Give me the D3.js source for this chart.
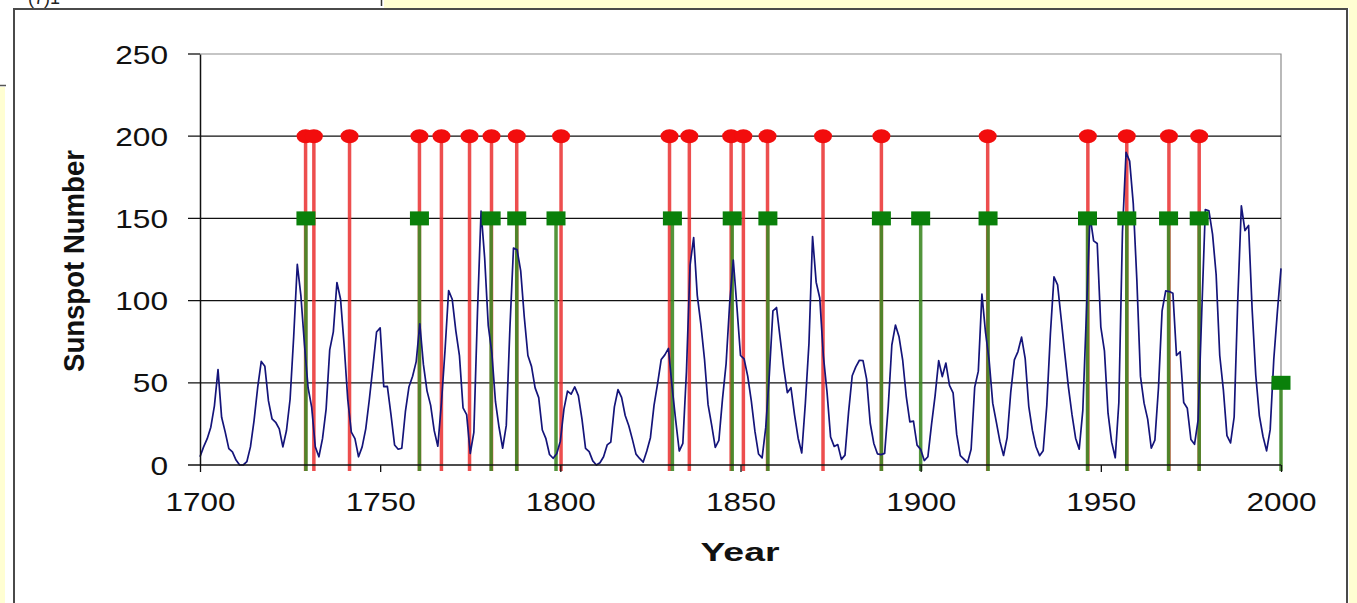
<!DOCTYPE html>
<html>
<head>
<meta charset="utf-8">
<script src="https://cdn.jsdelivr.net/npm/d3@7"></script>
<style>
  body { margin: 0; background: #fff; }
  svg { display: block; font-family: "Liberation Sans", Arial, sans-serif; }
</style>
</head>
<body>
<svg id="chart" width="1357" height="603"></svg>
<script>
// Yearly mean sunspot number, 1700-2000
const years = d3.range(1700, 2001);
const sunspots = [
  5, 11, 16, 23, 36, 58, 29, 20, 10, 8,
  3, 0, 0, 2, 11, 27, 47, 63, 60, 39,
  28, 26, 22, 11, 21, 40, 78, 122, 103, 73,
  47, 35, 11, 5, 16, 34, 70, 81, 111, 101,
  73, 40, 20, 16, 5, 11, 22, 40, 60, 80.9,
  83.4, 47.7, 47.8, 30.7, 12.2, 9.6, 10.2, 32.4, 47.6, 54,
  62.9, 85.9, 61.2, 45.1, 36.4, 20.9, 11.4, 37.8, 69.8, 106.1,
  100.8, 81.6, 66.5, 34.8, 30.6, 7, 19.8, 92.5, 154.4, 125.9,
  84.8, 68.1, 38.5, 22.8, 10.2, 24.1, 82.9, 132, 130.9, 118.1,
  89.9, 66.6, 60, 46.9, 41, 21.3, 16, 6.4, 4.1, 6.8,
  14.5, 34, 45, 43.1, 47.5, 42.2, 28.1, 10.1, 8.1, 2.5,
  0, 1.4, 5, 12.2, 13.9, 35.4, 45.8, 41.1, 30.1, 23.9,
  15.6, 6.6, 4, 1.8, 8.5, 16.6, 36.3, 49.6, 64.2, 67,
  70.9, 47.8, 27.5, 8.5, 13.2, 56.9, 121.5, 138.3, 103.2, 85.7,
  64.6, 36.7, 24.2, 10.7, 15, 40.1, 61.5, 98.5, 124.7, 96.3,
  66.6, 64.5, 54.1, 39, 20.6, 6.7, 4.3, 22.7, 54.8, 93.8,
  95.8, 77.2, 59.1, 44, 47, 30.5, 16.3, 7.3, 37.6, 74,
  139, 111.2, 101.6, 66.2, 44.7, 17, 11.3, 12.4, 3.4, 6,
  32.3, 54.3, 59.7, 63.7, 63.5, 52.2, 25.4, 13.1, 6.8, 6.3,
  7.1, 35.6, 73, 85.1, 78, 64, 41.8, 26.2, 26.7, 12.1,
  9.5, 2.7, 5, 24.4, 42, 63.5, 53.8, 62, 48.5, 43.9,
  18.6, 5.7, 3.6, 1.4, 9.6, 47.4, 57.1, 103.9, 80.6, 63.6,
  37.6, 26.1, 14.2, 5.8, 16.7, 44.3, 63.9, 69, 77.8, 64.9,
  35.7, 21.2, 11.1, 5.7, 8.7, 36.1, 79.7, 114.4, 109.6, 88.8,
  67.8, 47.5, 30.6, 16.3, 9.6, 33.2, 92.6, 151.6, 136.3, 134.7,
  83.9, 69.4, 31.5, 13.9, 4.4, 38, 141.7, 190.2, 184.8, 159,
  112.3, 53.9, 37.6, 27.9, 10.2, 15.1, 47, 93.8, 105.9, 105.5,
  104.5, 66.6, 68.9, 38, 34.5, 15.5, 12.6, 27.5, 92.5, 155.4,
  154.6, 140.4, 115.9, 66.6, 45.9, 17.9, 13.4, 29.2, 100.2, 157.6,
  142.6, 145.7, 94.3, 54.6, 29.9, 17.5, 8.6, 21.5, 64.3, 93.3,
  119.6
];

// Event markers: red circles at level 200, green squares at 150 (last one at 50)
const redYears = [1729.3, 1731.6, 1741.5, 1760.9, 1767.0, 1774.8, 1780.9, 1787.9,
  1800.2, 1830.3, 1835.8, 1847.4, 1850.8, 1857.5, 1872.9, 1889.1, 1918.6,
  1946.4, 1957.2, 1968.9, 1977.3];
const redLevels = redYears.map(() => 200);
const greenYears = [1729.4, 1760.9, 1780.8, 1787.9, 1798.8, 1831.1, 1847.7, 1857.6,
  1889.1, 1900.0, 1918.7, 1946.3, 1957.2, 1968.8, 1977.3, 2000.0];
const greenLevels = [150, 150, 150, 150, 150, 150, 150, 150,
  150, 150, 150, 150, 150, 150, 150, 50];

const yTicks = [0, 50, 100, 150, 200, 250];
const xTicks = [1700, 1750, 1800, 1850, 1900, 1950, 2000];

const svg = d3.select("#chart");

// surrounding page fragments
const pale = "#fffed2";
svg.append("rect").attr("x", 384).attr("y", 0).attr("width", 973).attr("height", 8).attr("fill", pale);
svg.append("rect").attr("x", 1349).attr("y", 0).attr("width", 8).attr("height", 603).attr("fill", pale);
svg.append("rect").attr("x", 0).attr("y", 87).attr("width", 5).attr("height", 516).attr("fill", pale);
svg.append("line").attr("x1", 0).attr("x2", 6).attr("y1", 85.5).attr("y2", 85.5)
  .attr("stroke", "#555").attr("stroke-width", 1.5);
svg.append("line").attr("x1", 381.5).attr("x2", 381.5).attr("y1", 0).attr("y2", 6)
  .attr("stroke", "#333").attr("stroke-width", 1.5);
svg.append("text").attr("x", 28).attr("y", 4).attr("font-size", 18).attr("fill", "#222")
  .text("(7)1");

// chart frame
svg.append("rect").attr("x", 14).attr("y", 9).attr("width", 1333).attr("height", 620)
  .attr("fill", "#fff").attr("stroke", "#4a4a4a").attr("stroke-width", 2);

const x = d3.scaleLinear().domain([1700, 2000]).range([200, 1281]);
const y = d3.scaleLinear().domain([0, 250]).range([465, 54]);

// plot border (top and right)
svg.append("path")
  .attr("d", `M${x(1700)},${y(250)}H${x(2000)}V${y(0)}`)
  .attr("fill", "none").attr("stroke", "#8c8c8c").attr("stroke-width", 1.2);

// horizontal gridlines with outward tick marks
svg.append("g").selectAll("line")
  .data(yTicks.filter(d => d > 0 && d < 250))
  .join("line")
  .attr("x1", x(1700) - 12).attr("x2", x(2000))
  .attr("y1", d => y(d)).attr("y2", d => y(d))
  .attr("stroke", "#111").attr("stroke-width", 1.3);
svg.append("line").attr("x1", x(1700) - 12).attr("x2", x(1700))
  .attr("y1", y(250)).attr("y2", y(250)).attr("stroke", "#111").attr("stroke-width", 1.3);

// drop lines from each marker to the axis
const dropBottom = y(0) + 6;
svg.append("g").selectAll("line")
  .data(redYears.map((d, i) => [d, redLevels[i]]))
  .join("line")
  .attr("x1", d => x(d[0])).attr("x2", d => x(d[0]))
  .attr("y1", d => y(d[1])).attr("y2", dropBottom)
  .attr("stroke", "#ea2f2f").attr("stroke-opacity", 0.85).attr("stroke-width", 3.5);
svg.append("g").selectAll("line")
  .data(greenYears.map((d, i) => [d, greenLevels[i]]))
  .join("line")
  .attr("x1", d => x(d[0])).attr("x2", d => x(d[0]))
  .attr("y1", d => y(d[1])).attr("y2", dropBottom)
  .attr("stroke", "#3f8a26").attr("stroke-opacity", 0.9).attr("stroke-width", 3.5);

// sunspot series
const line = d3.line().x((d, i) => x(years[i])).y(d => y(d));
svg.append("path").datum(sunspots)
  .attr("d", line)
  .attr("fill", "none").attr("stroke", "#14147a").attr("stroke-width", 1.7)
  .attr("stroke-linejoin", "round");

// markers
svg.append("g").selectAll("ellipse")
  .data(redYears.map((d, i) => [d, redLevels[i]]))
  .join("ellipse")
  .attr("cx", d => x(d[0])).attr("cy", d => y(d[1]))
  .attr("rx", 9).attr("ry", 7).attr("fill", "#f20d0d");
svg.append("g").selectAll("rect")
  .data(greenYears.map((d, i) => [d, greenLevels[i]]))
  .join("rect")
  .attr("x", d => x(d[0]) - 9.5).attr("y", d => y(d[1]) - 7)
  .attr("width", 19).attr("height", 14).attr("fill", "#0a800a");

// axes
const yAxis = d3.axisLeft(y).tickValues(yTicks).tickSize(0).tickPadding(0);
const gy = svg.append("g").attr("transform", `translate(${x(1700)},0)`).call(yAxis);
gy.select(".domain").attr("stroke", "#111").attr("stroke-width", 1.5);
gy.selectAll("text")
  .attr("x", -32).attr("dy", "0.36em")
  .attr("font-size", 25).attr("fill", "#111")
  .attr("font-family", "'Liberation Sans', Arial, sans-serif")
  .attr("textLength", d => String(d).length * 17.6).attr("lengthAdjust", "spacingAndGlyphs");

const xAxis = d3.axisBottom(x).tickValues(xTicks).tickFormat(d3.format("d")).tickSize(7).tickPadding(0);
const gx = svg.append("g").attr("transform", `translate(0,${y(0)})`).call(xAxis);
gx.select(".domain").remove();
gx.selectAll(".tick line").attr("stroke", "#111").attr("stroke-width", 1.3);
svg.append("line").attr("x1", x(1700) - 12).attr("x2", x(2000))
  .attr("y1", y(0)).attr("y2", y(0)).attr("stroke", "#111").attr("stroke-width", 1.5);
gx.selectAll("text")
  .attr("y", 46).attr("dy", 0)
  .attr("font-size", 25).attr("fill", "#111")
  .attr("font-family", "'Liberation Sans', Arial, sans-serif")
  .attr("textLength", 70).attr("lengthAdjust", "spacingAndGlyphs");

// axis titles
svg.append("text")
  .attr("x", 740).attr("y", 561)
  .attr("text-anchor", "middle").attr("font-weight", "bold").attr("font-size", 26)
  .attr("textLength", 79).attr("lengthAdjust", "spacingAndGlyphs")
  .attr("fill", "#111").text("Year");
svg.append("text")
  .attr("transform", `translate(84,261) rotate(-90)`)
  .attr("text-anchor", "middle").attr("font-weight", "bold").attr("font-size", 30)
  .attr("textLength", 222).attr("lengthAdjust", "spacingAndGlyphs")
  .attr("fill", "#111").text("Sunspot Number");
</script>
</body>
</html>
